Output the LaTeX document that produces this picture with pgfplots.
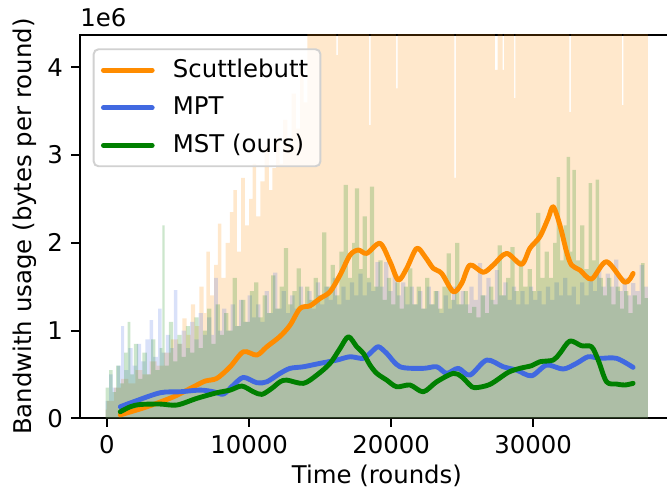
\documentclass[border=0pt]{standalone}
\usepackage{pgfplots}
\pgfplotsset{compat=1.18}
\usepackage{fontspec}
\setmainfont{DejaVu Sans}
\definecolor{cOr}{HTML}{FF8C00}
\definecolor{cBl}{HTML}{4169E1}
\definecolor{cGr}{HTML}{008000}
\begin{document}
\begin{tikzpicture}
\begin{axis}[
  scale only axis, width=243.5pt, height=157.2pt,
  xmin=-1900, xmax=39900, ymin=0, ymax=4.368,
  xtick={0,10000,20000,30000}, ytick={0,1,2,3,4},
  scaled x ticks=false, scaled y ticks=false,
  xticklabel style={/pgf/number format/1000 sep={}},
  /pgf/number format/assume math mode=true,
  tick align=outside, major tick length=3.5pt,
  tick style={line width=0.8pt, black}, tick pos=left,
  axis line style={line width=0.8pt},
  font=\fontsize{10}{12}\selectfont,
  xlabel={Time (rounds)}, ylabel={Bandwith usage (bytes per round)},
  xlabel style={at={(axis description cs:0.5,-0.1711)}, anchor=base},
  ylabel style={at={(axis description cs:-0.0924,0.5)}, anchor=center},
  legend cell align=left,
  legend style={at={(0.0214,0.9653)}, anchor=north west, draw=black!18, line width=0.8pt,
    rounded corners=2pt, fill=white, fill opacity=0.8, text opacity=1,
    font=\fontsize{10}{12}\selectfont, inner xsep=3pt, inner ysep=2pt, row sep=2.5pt,
    /tikz/every odd column/.append style={column sep=5.5pt}},
  legend image code/.code={\draw[#1, line width=2pt, rounded corners=0pt] (0pt,0pt) -- (20pt,0pt);},
]
% raw per-round data (orange: Scuttlebutt)
\addplot[const plot, fill=cOr, fill opacity=0.2, draw=none, forget plot] coordinates {
(-100,0.1)(0,0.2)(500,0.35)(1000,0.45)(1500,0.4)(2000,0.55)(2500,0.5)(3000,0.65)(3500,0.6)
(4000,0.75)(4500,0.9)(5000,0.85)(5300,1.14)(5600,0.95)(5900,1.3)(6200,1.05)(6500,1.5)
(6800,1.2)(7000,1.9)(7250,1.4)(7550,1.75)(7800,2.22)(8050,1.6)(8350,2.0)(8650,2.35)
(8900,2.6)(9150,1.9)(9450,2.74)(9700,2.2)(10000,2.5)(10250,2.9)(10500,2.3)(10800,2.7)
(11100,3.1)(11400,2.6)(11650,2.85)(11900,3.2)(12150,2.9)(12400,3.4)(12700,3.1)(13000,3.7)
(13300,3.3)(13600,4.0)(13850,3.6)(14100,4.5)(16150,4.14)(16250,4.5)(18450,3.34)(18550,4.5)
(20350,3.76)(20450,4.5)(24450,2.74)(24550,4.5)(27300,3.97)(27500,4.5)(27850,3.97)(27950,4.5)
(28650,3.65)(28750,4.5)(32550,3.49)(32650,4.5)(36250,3.57)(36350,4.5)(38080,4.5)
} \closedcycle;
% raw per-round data (blue: MPT)
\addplot[const plot, fill=cBl, fill opacity=0.2, draw=none, forget plot] coordinates {
(-100,0.2)(150,0.5)(400,0.35)(700,0.6)(1000,1.05)(1200,0.55)(1500,0.8)(1800,0.6)(2100,0.85)
(2400,0.65)(2700,0.9)(3000,1.12)(3250,0.7)(3600,1.25)(3850,0.75)(4150,0.95)(4450,0.8)
(4700,1.46)(4950,0.85)(5250,1.0)(5550,0.8)(5850,1.1)(6150,0.9)(6450,1.2)(6750,0.95)
(7050,1.15)(7350,0.95)(7550,1.6)(7800,1.0)(8100,1.25)(8400,1.0)(8700,1.3)(9000,1.05)
(9300,1.35)(9600,1.1)(9900,1.4)(10200,1.15)(10500,1.3)(10800,1.1)(11100,1.45)(11400,1.2)
(11700,1.66)(12000,1.25)(12300,1.45)(12600,1.2)(12900,1.4)(13200,1.25)(13500,1.5)(13800,1.3)
(14100,1.45)(14400,1.25)(14700,1.55)(15000,1.3)(15300,1.5)(15600,1.35)(15900,1.6)(16200,1.3)
(16500,1.5)(16800,1.35)(17100,1.55)(17400,1.4)(17700,1.65)(18000,1.4)(18300,1.55)(18600,1.45)
(18900,1.78)(19200,1.5)(19500,1.78)(19800,1.45)(20100,1.65)(20400,1.4)(20700,1.55)(21000,1.3)
(21300,1.5)(21600,1.3)(21900,1.45)(22200,1.25)(22500,1.5)(22800,1.3)(23100,1.45)(23400,1.2)
(23700,1.4)(24000,1.25)(24300,1.5)(24600,1.3)(24900,1.45)(25200,1.3)(25500,1.5)(25800,1.35)
(26100,1.77)(26400,1.4)(26700,1.6)(27000,1.35)(27300,1.69)(27600,1.4)(27900,1.55)(28200,1.35)
(28500,1.5)(28800,1.3)(29100,1.45)(29400,1.3)(29700,1.5)(30000,1.35)(30300,1.45)(30600,1.3)
(30900,1.5)(31200,1.35)(31500,1.55)(31800,1.4)(32100,1.6)(32400,1.4)(32700,1.5)(33000,1.3)
(33300,1.55)(33600,1.4)(33900,1.6)(34200,1.45)(34500,1.7)(34800,1.5)(35100,1.65)(35400,1.5)
(35700,1.81)(36000,1.45)(36300,1.6)(36600,1.4)(36900,1.54)(37200,1.45)(37500,1.75)(37800,1.5)
(38080,1.5)
} \closedcycle;
% raw per-round data (green: MST)
\addplot[const plot, fill=cGr, fill opacity=0.2, draw=none, forget plot] coordinates {
(-100,0.35)(150,0.55)(400,0.3)(650,0.6)(900,0.4)(1200,0.75)(1450,1.1)(1650,0.5)(1900,0.85)
(2200,0.45)(2500,0.75)(2800,0.5)(3100,0.9)(3400,0.55)(3700,0.8)(3900,2.2)(4050,0.6)(4350,1.1)
(4650,0.65)(4950,0.95)(5250,0.7)(5550,1.05)(5850,0.75)(6150,1.15)(6450,0.8)(6750,1.0)
(7050,1.25)(7350,0.85)(7650,1.3)(7950,0.95)(8250,1.2)(8550,1.0)(8850,1.6)(9150,1.05)
(9450,1.35)(9750,1.1)(10050,1.45)(10350,1.55)(10650,1.15)(10950,1.4)(11250,1.2)(11550,1.63)
(11850,1.25)(12150,1.5)(12450,1.94)(12750,1.3)(13050,1.45)(13350,1.71)(13650,1.25)(13950,1.5)
(14250,1.35)(14550,1.6)(14850,1.4)(15150,2.12)(15450,1.5)(15750,1.75)(16050,1.4)(16350,1.9)
(16650,2.66)(16950,1.6)(17250,2.0)(17450,2.62)(17750,1.7)(18000,2.3)(18300,1.6)(18500,2.64)
(18800,1.5)(19100,1.8)(19400,1.35)(19700,1.6)(20000,1.3)(20300,1.55)(20600,1.25)(20900,1.5)
(21200,1.71)(21500,1.3)(21800,1.5)(22100,1.25)(22400,1.6)(22700,1.3)(23000,1.45)(23300,1.25)
(23600,1.5)(23900,1.88)(24200,1.35)(24500,2.0)(24800,1.3)(25100,1.45)(25400,1.2)(25700,1.27)
(26000,1.15)(26300,1.4)(26600,1.2)(26900,1.5)(27200,1.3)(27500,1.97)(27800,1.4)(28100,1.6)
(28400,1.95)(28700,1.45)(29000,1.8)(29300,1.5)(29600,1.7)(29900,1.45)(30200,2.34)(30500,1.6)
(30800,1.9)(31100,1.6)(31400,2.0)(31650,2.75)(31900,1.8)(32150,2.2)(32350,2.98)(32600,1.9)
(32750,2.83)(33000,1.8)(33300,2.2)(33600,1.7)(33900,2.68)(34150,1.8)(34400,2.72)(34650,1.6)
(34900,1.4)(35200,1.6)(35500,1.3)(35800,1.5)(36100,1.25)(36400,1.45)(36700,1.2)(37000,1.4)
(37300,1.3)(37600,1.77)(37850,1.37)(38080,1.37)
} \closedcycle;
% smoothed series
\addplot[cOr, line width=2pt, smooth, line join=round, line cap=round] coordinates {
(935,0.04)(2813,0.132)(4684,0.246)(6090,0.36)(6913,0.425)(7736,0.456)(8671,0.588)(9606,0.759)
(10548,0.721)(11252,0.816)(12187,0.935)(12890,1.063)(13594,1.253)(14297,1.283)(15000,1.367)
(15703,1.443)(16406,1.633)(17110,1.861)(17696,1.918)(18284,1.88)(19220,1.994)(19923,1.785)
(20506,1.576)(21097,1.709)(21800,1.937)(22385,1.842)(22967,1.709)(23558,1.652)(24373,1.443)
(24965,1.538)(25548,1.747)(26484,1.664)(27187,1.747)(28129,1.88)(29184,1.755)(29768,1.937)
(30471,2.07)(31055,2.279)(31407,2.411)(31878,2.203)(32349,1.899)(32700,1.747)(33284,1.69)
(34108,1.587)(35162,1.785)(36449,1.55)(37033,1.652)
};
\addlegendentry{Scuttlebutt}
\addplot[cBl, line width=2pt, smooth, line join=round, line cap=round] coordinates {
(935,0.132)(1871,0.189)(3748,0.292)(5155,0.303)(6561,0.322)(7497,0.303)(8200,0.277)(8903,0.38)
(9606,0.467)(10548,0.406)(11252,0.417)(12187,0.513)(12890,0.57)(13826,0.588)(15000,0.627)
(16174,0.664)(17110,0.702)(18045,0.684)(18636,0.759)(19100,0.816)(19690,0.741)(20626,0.588)
(22264,0.57)(23207,0.588)(23910,0.513)(24725,0.57)(25548,0.493)(26723,0.664)(27890,0.588)
(28832,0.55)(29887,0.485)(30942,0.607)(32110,0.562)(33052,0.627)(33868,0.702)(34693,0.684)
(35865,0.684)(37033,0.581)
};
\addlegendentry{MPT}
\addplot[cGr, line width=2pt, smooth, line join=round, line cap=round] coordinates {
(935,0.075)(1639,0.132)(2342,0.158)(3748,0.163)(4923,0.152)(6329,0.228)(7736,0.292)(8671,0.322)
(9494,0.368)(10309,0.303)(10900,0.273)(11603,0.342)(12187,0.417)(12658,0.436)(13826,0.399)
(14768,0.493)(15703,0.627)(16406,0.797)(16990,0.93)(17581,0.816)(18045,0.741)(18516,0.607)
(18987,0.513)(19690,0.436)(20394,0.36)(21329,0.38)(22264,0.303)(23207,0.417)(24373,0.513)
(24965,0.474)(25548,0.38)(25900,0.349)(26955,0.387)(28242,0.524)(29065,0.57)(29887,0.6)
(30471,0.645)(31407,0.664)(31878,0.741)(32581,0.881)(33404,0.827)(34108,0.816)(34578,0.664)
(35162,0.417)(35865,0.391)(36449,0.38)(37033,0.399)
};
\addlegendentry{MST (ours)}
\end{axis}
\node[anchor=base west, font=\fontsize{10}{12}\selectfont, inner sep=0pt] at ([yshift=3.4pt]current axis.north west) {1e6};
\pgfresetboundingbox
\path[use as bounding box] ([xshift=-32.8pt,yshift=-31.9pt]current axis.south west) rectangle ([xshift=240.7pt,yshift=171.55pt]current axis.south west);
\end{tikzpicture}
\end{document}
